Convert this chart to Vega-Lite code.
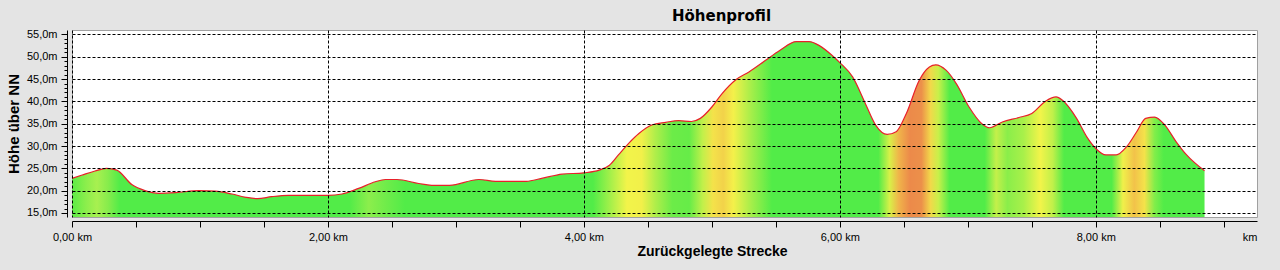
{
  "$schema": "https://vega.github.io/schema/vega-lite/v6.json",
  "width": 1185,
  "height": 187,
  "autosize": "none",
  "padding": {"left": 72, "top": 30, "right": 23, "bottom": 53},
  "background": "#e4e4e4",
  "title": {"text": "Höhenprofil", "font": "DejaVu Sans", "fontSize": 15, "fontWeight": "bold", "color": "#000000", "anchor": "middle", "dx": 57, "offset": 4},
  "config": {"view": {"fill": "white", "stroke": "#a0a0a0", "strokeWidth": 1}},
  "data": {"values": [
    {"km": 0.00, "m": 22.75}, {"km": 0.08, "m": 23.5}, {"km": 0.18, "m": 24.4}, {"km": 0.27, "m": 25.0},
    {"km": 0.35, "m": 24.6}, {"km": 0.47, "m": 21.3}, {"km": 0.57, "m": 20.0}, {"km": 0.68, "m": 19.4},
    {"km": 0.81, "m": 19.55}, {"km": 0.99, "m": 20.0}, {"km": 1.12, "m": 19.9}, {"km": 1.25, "m": 19.25},
    {"km": 1.36, "m": 18.5}, {"km": 1.45, "m": 18.2}, {"km": 1.56, "m": 18.65}, {"km": 1.69, "m": 18.95},
    {"km": 2.00, "m": 18.95}, {"km": 2.11, "m": 19.25}, {"km": 2.24, "m": 20.5}, {"km": 2.37, "m": 22.0},
    {"km": 2.45, "m": 22.5}, {"km": 2.54, "m": 22.5}, {"km": 2.71, "m": 21.6}, {"km": 2.81, "m": 21.2},
    {"km": 2.95, "m": 21.2}, {"km": 3.18, "m": 22.5}, {"km": 3.31, "m": 22.1}, {"km": 3.55, "m": 22.1},
    {"km": 3.67, "m": 22.75}, {"km": 3.83, "m": 23.7}, {"km": 4.00, "m": 24.0}, {"km": 4.12, "m": 24.6},
    {"km": 4.20, "m": 25.7}, {"km": 4.27, "m": 28.0}, {"km": 4.35, "m": 30.6}, {"km": 4.43, "m": 32.8},
    {"km": 4.53, "m": 34.7}, {"km": 4.64, "m": 35.3}, {"km": 4.74, "m": 35.7}, {"km": 4.84, "m": 35.5},
    {"km": 4.91, "m": 36.2}, {"km": 5.00, "m": 38.75}, {"km": 5.08, "m": 41.75}, {"km": 5.19, "m": 44.9},
    {"km": 5.29, "m": 46.6}, {"km": 5.42, "m": 49.2}, {"km": 5.53, "m": 51.4}, {"km": 5.66, "m": 53.4},
    {"km": 5.76, "m": 53.4}, {"km": 5.84, "m": 52.5}, {"km": 5.94, "m": 50.3}, {"km": 6.00, "m": 48.7},
    {"km": 6.10, "m": 45.5}, {"km": 6.20, "m": 39.5}, {"km": 6.28, "m": 34.7}, {"km": 6.37, "m": 32.6},
    {"km": 6.44, "m": 33.2}, {"km": 6.52, "m": 37.3}, {"km": 6.62, "m": 44.7}, {"km": 6.70, "m": 47.7},
    {"km": 6.75, "m": 48.2}, {"km": 6.83, "m": 47.0}, {"km": 6.91, "m": 44.0}, {"km": 7.01, "m": 38.75},
    {"km": 7.11, "m": 35.0}, {"km": 7.17, "m": 34.1}, {"km": 7.27, "m": 35.4}, {"km": 7.40, "m": 36.4},
    {"km": 7.50, "m": 37.3}, {"km": 7.61, "m": 40.1}, {"km": 7.69, "m": 41.0}, {"km": 7.74, "m": 40.25},
    {"km": 7.85, "m": 36.2}, {"km": 7.93, "m": 32.05}, {"km": 8.00, "m": 29.45}, {"km": 8.08, "m": 28.0},
    {"km": 8.16, "m": 28.0}, {"km": 8.24, "m": 29.8}, {"km": 8.32, "m": 33.2}, {"km": 8.39, "m": 36.2},
    {"km": 8.46, "m": 36.5}, {"km": 8.54, "m": 34.7}, {"km": 8.63, "m": 30.9}, {"km": 8.71, "m": 28.0},
    {"km": 8.85, "m": 24.45}
  ]},
  "mark": {
    "type": "area",
    "interpolate": "monotone",
    "opacity": 1,
    "color": {
      "gradient": "linear", "x1": 0, "x2": 1, "y1": 0, "y2": 0,
      "stops": [
        {"offset": 0.000, "color": "#5cec46"},
        {"offset": 0.012, "color": "#8aee4c"},
        {"offset": 0.022, "color": "#a8f050"},
        {"offset": 0.032, "color": "#86ec4c"},
        {"offset": 0.042, "color": "#52ec48"},
        {"offset": 0.245, "color": "#52ec48"},
        {"offset": 0.262, "color": "#8cee4c"},
        {"offset": 0.277, "color": "#70ec4a"},
        {"offset": 0.294, "color": "#52ec48"},
        {"offset": 0.460, "color": "#52ec48"},
        {"offset": 0.476, "color": "#a8f04a"},
        {"offset": 0.490, "color": "#f2f44a"},
        {"offset": 0.503, "color": "#f2f04a"},
        {"offset": 0.515, "color": "#b0ee4a"},
        {"offset": 0.530, "color": "#6cec48"},
        {"offset": 0.545, "color": "#66ec48"},
        {"offset": 0.557, "color": "#c2f04a"},
        {"offset": 0.566, "color": "#f4e24a"},
        {"offset": 0.575, "color": "#f2d24a"},
        {"offset": 0.584, "color": "#f4f04a"},
        {"offset": 0.600, "color": "#a4ee4a"},
        {"offset": 0.618, "color": "#52ec48"},
        {"offset": 0.712, "color": "#52ec48"},
        {"offset": 0.722, "color": "#d8f048"},
        {"offset": 0.730, "color": "#f0b44a"},
        {"offset": 0.740, "color": "#ec8a4a"},
        {"offset": 0.750, "color": "#ec904a"},
        {"offset": 0.758, "color": "#f2d84a"},
        {"offset": 0.765, "color": "#c8f04a"},
        {"offset": 0.775, "color": "#52ec48"},
        {"offset": 0.806, "color": "#52ec48"},
        {"offset": 0.816, "color": "#c4f04a"},
        {"offset": 0.826, "color": "#8aee4a"},
        {"offset": 0.840, "color": "#a8f04a"},
        {"offset": 0.855, "color": "#f2f44a"},
        {"offset": 0.866, "color": "#c0f04a"},
        {"offset": 0.876, "color": "#52ec48"},
        {"offset": 0.918, "color": "#52ec48"},
        {"offset": 0.928, "color": "#f0f04a"},
        {"offset": 0.938, "color": "#f2c24a"},
        {"offset": 0.947, "color": "#f4e24a"},
        {"offset": 0.956, "color": "#80ee4a"},
        {"offset": 0.964, "color": "#52ec48"},
        {"offset": 1.000, "color": "#52ec48"}
      ]
    },
    "line": {"color": "#e8202a", "strokeWidth": 1.2}
  },
  "encoding": {
    "x": {
      "field": "km", "type": "quantitative",
      "scale": {"domain": [0, 9.26], "nice": false, "zero": false},
      "axis": {
        "values": [0, 0.5, 1, 1.5, 2, 2.5, 3, 3.5, 4, 4.5, 5, 5.5, 6, 6.5, 7, 7.5, 8, 8.5, 9, 9.26],
        "offset": 4,
        "zindex": 1,
        "domainColor": "#000000",
        "tickColor": "#000000",
        "tickSize": 6,
        "tickOpacity": {"condition": {"test": "datum.value > 9.1", "value": 0}, "value": 1},
        "grid": true,
        "gridColor": "#000000",
        "gridDash": [3, 2],
        "gridOpacity": {"condition": {"test": "datum.value % 2 == 0", "value": 1}, "value": 0},
        "labelExpr": "datum.value > 9.1 ? 'km' : (datum.value % 2 == 0 ? replace(format(datum.value, '.2f'), '.', ',') + ' km' : '')",
        "labelAlign": {"condition": {"test": "datum.value > 9.1", "value": "right"}, "value": "center"},
        "labelFlush": false,
        "labelBound": false,
        "labelOverlap": false,
        "labelFont": "Liberation Sans",
        "labelFontSize": 11,
        "labelColor": "#000000",
        "labelPadding": 4,
        "title": "Zurückgelegte Strecke",
        "titleFont": "Liberation Sans",
        "titleFontSize": 14,
        "titleFontWeight": "bold",
        "titleColor": "#000000",
        "titleX": 640,
        "titlePadding": 2
      }
    },
    "y": {
      "field": "m", "type": "quantitative",
      "scale": {"domain": [14.1, 56], "nice": false, "zero": false},
      "axis": {
        "values": [15, 16, 17, 18, 19, 20, 21, 22, 23, 24, 25, 26, 27, 28, 29, 30, 31, 32, 33, 34, 35, 36, 37, 38, 39, 40, 41, 42, 43, 44, 45, 46, 47, 48, 49, 50, 51, 52, 53, 54, 55],
        "offset": 5,
        "zindex": 1,
        "domainColor": "#000000",
        "tickColor": "#000000",
        "tickSize": {"condition": {"test": "datum.value % 5 == 0", "value": 6}, "value": 3},
        "grid": true,
        "gridColor": "#000000",
        "gridDash": [3, 2],
        "gridOpacity": {"condition": {"test": "datum.value % 5 == 0", "value": 1}, "value": 0},
        "labelExpr": "datum.value % 5 == 0 ? replace(format(datum.value, '.1f'), '.', ',') + 'm' : ''",
        "labelOverlap": false,
        "labelBound": false,
        "labelFont": "Liberation Sans",
        "labelFontSize": 11,
        "labelColor": "#000000",
        "labelPadding": 4,
        "title": "Höhe über NN",
        "titleFont": "Liberation Sans",
        "titleFontSize": 15,
        "titleFontWeight": "bold",
        "titleColor": "#000000",
        "titlePadding": 5
      }
    },
    "y2": {"datum": 14.1}
  }
}
